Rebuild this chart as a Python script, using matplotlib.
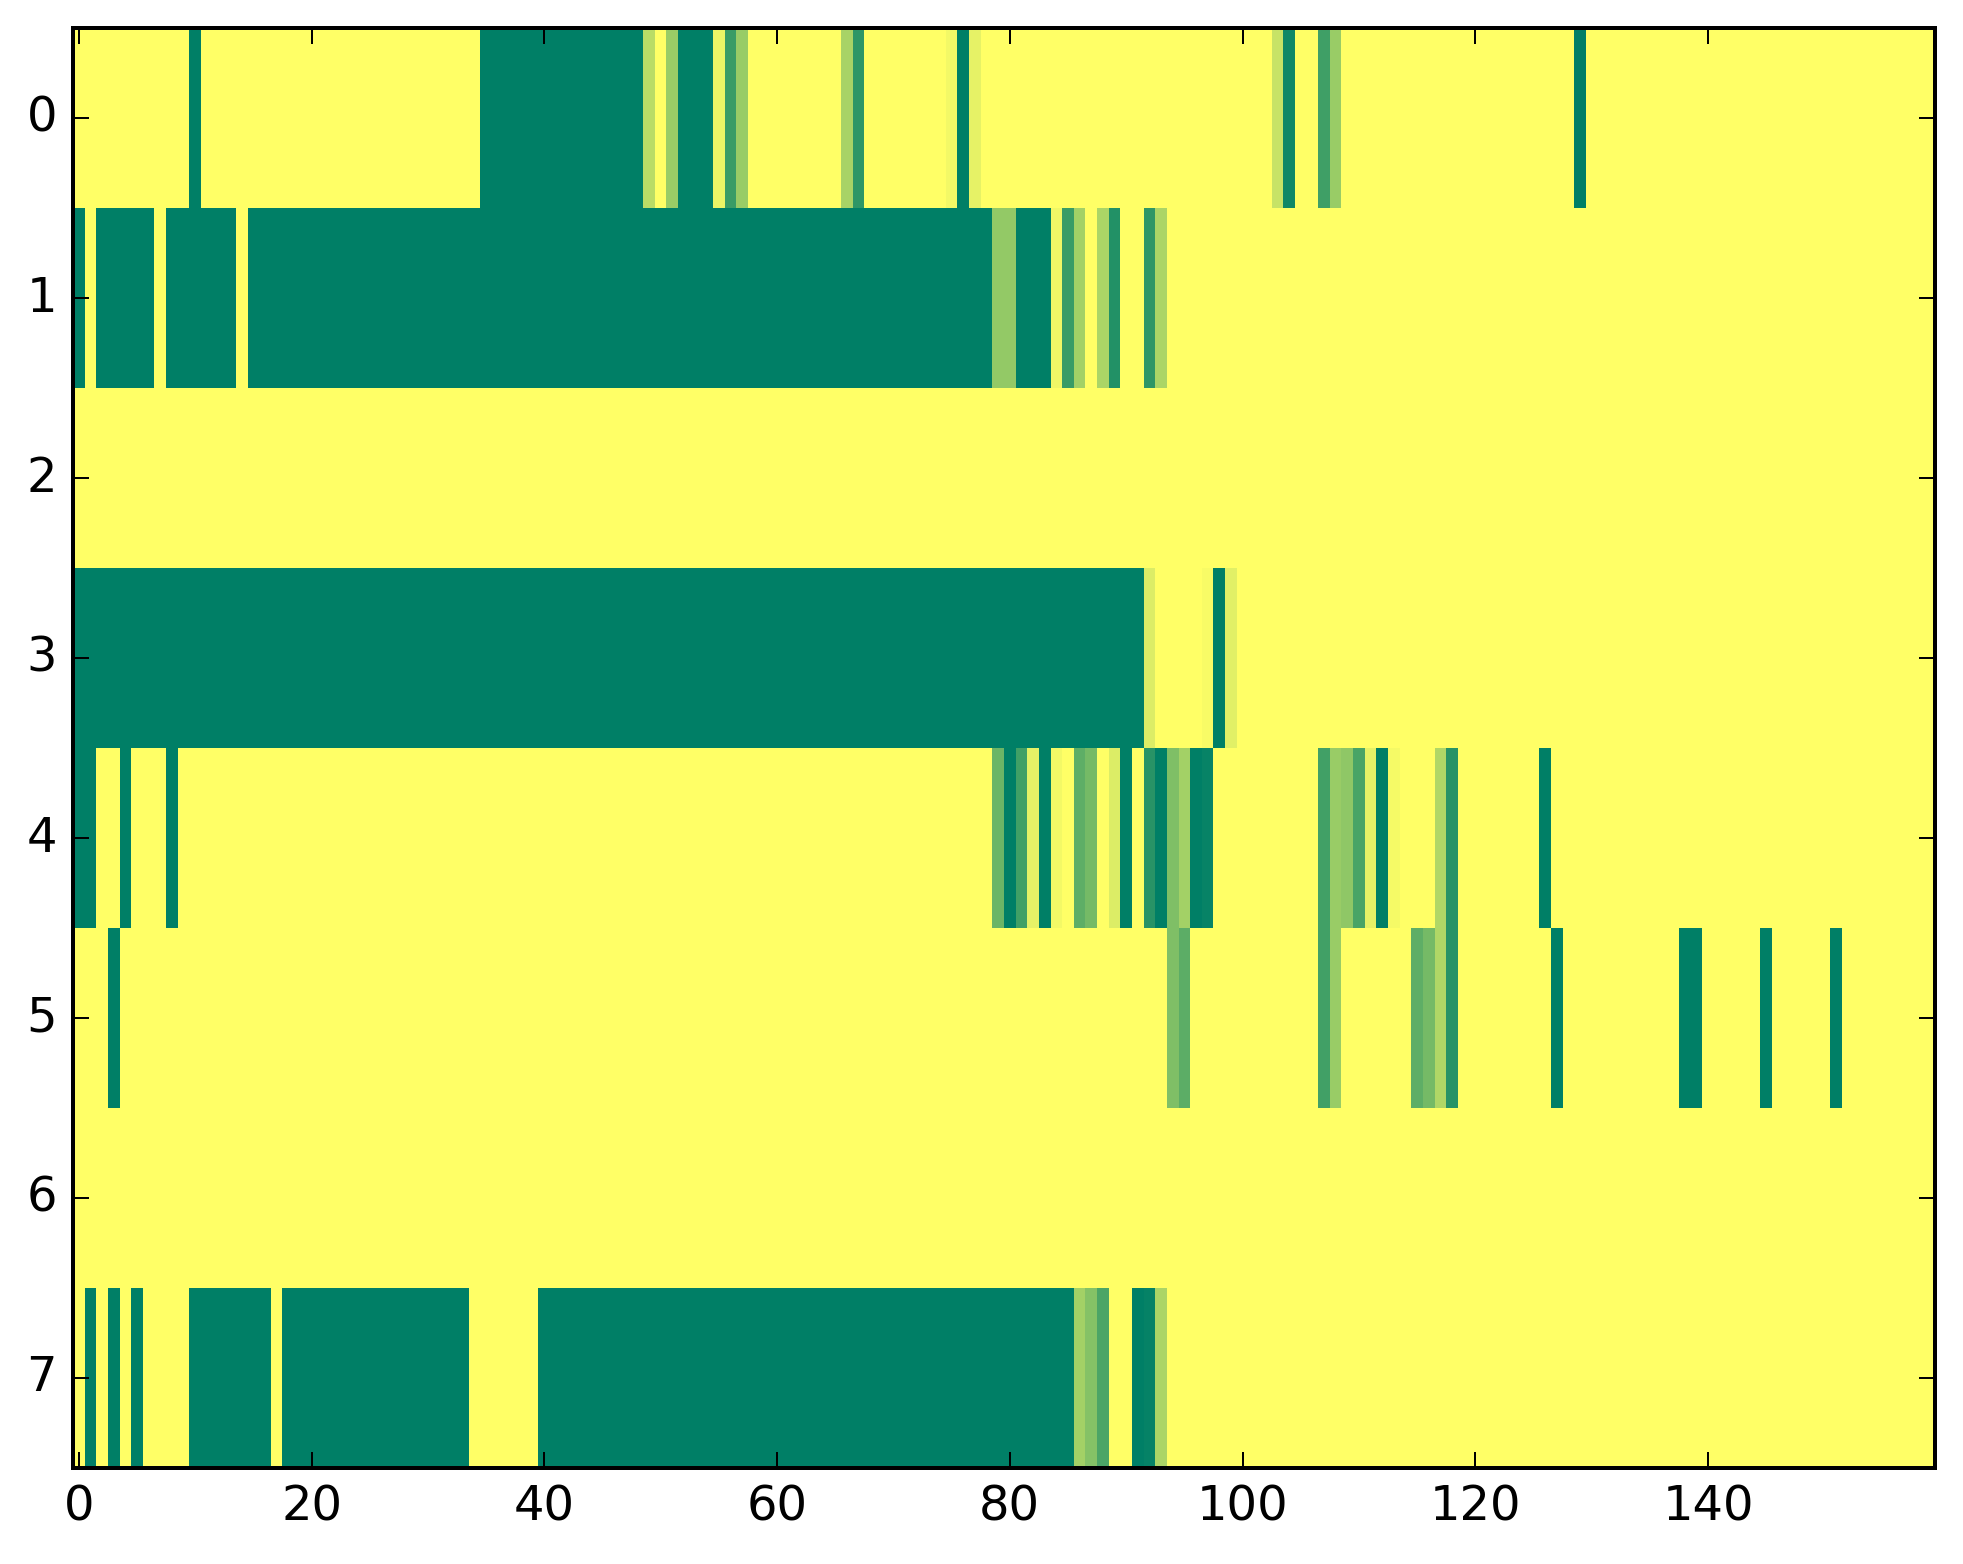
import numpy as np
import matplotlib
matplotlib.use("Agg")
import matplotlib.pyplot as plt

n_rows = 8
n_cols = 160

# runs of (first column, last column, value); everything else is 0
row0 = [(10, 10, 1), (35, 48, 1), (49, 49, 0.27), (51, 51, 0.40), (52, 54, 1),
        (55, 55, 0.08), (56, 56, 0.77), (57, 57, 0.40), (66, 66, 0.34), (67, 67, 0.82),
        (75, 75, 0.05), (76, 76, 1), (77, 77, 0.10), (103, 103, 0.22), (104, 104, 0.93),
        (107, 107, 0.75), (108, 108, 0.40), (129, 129, 1)]
row1 = [(0, 0, 1), (2, 6, 1), (8, 13, 1), (15, 78, 1), (79, 80, 0.42), (81, 83, 1),
        (84, 84, 0.06), (85, 85, 0.77), (86, 86, 0.36), (88, 88, 0.33), (89, 89, 0.86),
        (92, 92, 0.82), (93, 93, 0.33)]
row2 = []
row3 = [(0, 91, 1), (92, 92, 0.14), (97, 97, 0.03), (98, 98, 1), (99, 99, 0.12)]
row4 = [(0, 1, 1), (4, 4, 1), (8, 8, 1), (79, 79, 0.58), (80, 80, 1), (81, 81, 0.74),
        (82, 82, 0.10), (83, 83, 1), (84, 84, 0.05), (86, 86, 0.63), (87, 87, 0.54),
        (89, 89, 0.14), (90, 90, 1), (92, 92, 0.84), (93, 93, 1), (94, 94, 0.50),
        (95, 95, 0.36), (96, 96, 1), (97, 97, 0.97), (107, 107, 0.74), (108, 108, 0.40),
        (109, 109, 0.44), (110, 110, 0.71), (111, 111, 0.10), (112, 112, 1),
        (113, 113, 0.04), (117, 117, 0.31), (118, 118, 0.84), (126, 126, 1)]
row5 = [(3, 3, 1), (94, 94, 0.50), (95, 95, 0.64), (107, 107, 0.74), (108, 108, 0.40),
        (115, 115, 0.63), (116, 116, 0.54), (117, 117, 0.31), (118, 118, 0.84),
        (127, 127, 1), (138, 139, 1), (145, 145, 1), (151, 151, 1)]
row6 = []
row7 = [(1, 1, 1), (3, 3, 1), (5, 5, 1), (10, 16, 1), (18, 33, 1), (40, 85, 1),
        (86, 86, 0.36), (87, 87, 0.48), (88, 88, 0.70), (91, 91, 1), (92, 92, 0.98),
        (93, 93, 0.33)]

rows = [row0, row1, row2, row3, row4, row5, row6, row7]
x_ticks = [0, 20, 40, 60, 80, 100, 120, 140]
y_ticks = list(range(n_rows))

data = np.zeros((n_rows, n_cols))
for i, runs in enumerate(rows):
    for start, end, val in runs:
        data[i, start:end + 1] = val

plt.style.use("classic")
plt.rcParams["font.family"] = "DejaVu Sans"

dpi = 288
fig = plt.figure(figsize=(1963 / dpi, 1564 / dpi), dpi=dpi)
ax = fig.add_axes([0.0372, 0.0614, 0.9485, 0.9206])
ax.imshow(data, cmap="summer_r", vmin=0, vmax=1, aspect="auto",
          interpolation="nearest")
ax.set_xticks(x_ticks)
ax.set_yticks(y_ticks)
ax.tick_params(labelsize=12)

fig.savefig("out.png", dpi=dpi)
